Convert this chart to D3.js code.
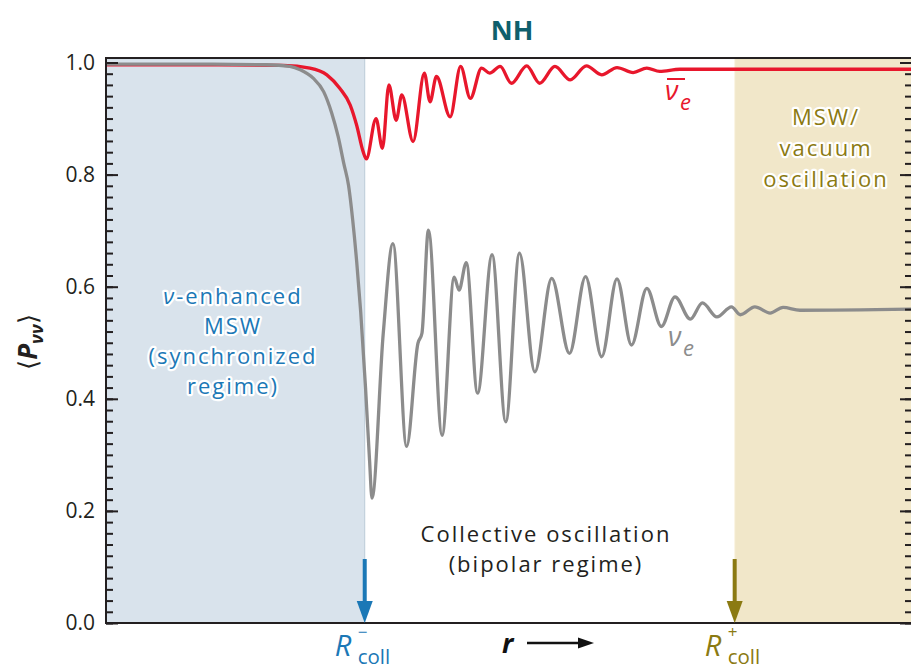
<!DOCTYPE html>
<html>
<head>
<meta charset="utf-8">
<script src="https://cdn.jsdelivr.net/npm/d3@7/dist/d3.min.js"></script>
<style>
  body { margin: 0; background: #fff; }
  text { font-family: "Open Sans", "Noto Sans", sans-serif; }
</style>
</head>
<body>
<svg id="chart" width="911" height="670"></svg>
<script>
// Radial coordinate r (arbitrary units) and survival probability <P_vv>
// electron neutrinos (grey curve)
const nueR = [0, 1.17, 1.99, 2.28, 2.41, 2.57, 2.70, 2.80, 2.88, 2.95, 3.01, 3.06, 3.11, 3.16, 3.22, 3.27, 3.30,
  3.44, 3.56, 3.73, 3.87, 3.92, 4.00, 4.17, 4.32, 4.38, 4.47, 4.61, 4.79, 4.96, 5.13, 5.32,
  5.53, 5.75, 5.95, 6.15, 6.34, 6.52, 6.71, 6.89, 7.06, 7.25, 7.40, 7.58, 7.76, 7.87, 8.05,
  8.24, 8.40, 8.61, 10];
const nueP = [0.997, 0.997, 0.996, 0.993, 0.987, 0.972, 0.948, 0.910, 0.868, 0.820, 0.780, 0.720, 0.645, 0.555, 0.420, 0.290, 0.223,
  0.517, 0.677, 0.315, 0.499, 0.517, 0.701, 0.335, 0.617, 0.594, 0.643, 0.410, 0.657, 0.359, 0.660, 0.448,
  0.615, 0.481, 0.618, 0.475, 0.614, 0.496, 0.597, 0.529, 0.582, 0.542, 0.571, 0.546, 0.564, 0.550, 0.564,
  0.553, 0.563, 0.558, 0.560];

// electron antineutrinos (red curve)
const nuebarR = [0, 1.17, 2.20, 2.53, 2.74, 2.90, 3.03, 3.11, 3.19, 3.23, 3.35, 3.43, 3.51, 3.60, 3.67,
  3.81, 3.95, 4.02, 4.10, 4.27, 4.40, 4.52, 4.66, 4.76, 4.89, 5.03, 5.22, 5.38, 5.57, 5.76,
  5.96, 6.15, 6.34, 6.54, 6.71, 6.87, 7.12, 10];
const nuebarP = [0.996, 0.996, 0.995, 0.990, 0.978, 0.954, 0.924, 0.888, 0.841, 0.828, 0.900, 0.847, 0.960, 0.897, 0.942,
  0.859, 0.981, 0.930, 0.975, 0.903, 0.993, 0.936, 0.990, 0.981, 0.993, 0.963, 0.994, 0.963, 0.993, 0.969,
  0.994, 0.978, 0.991, 0.982, 0.990, 0.984, 0.988, 0.988];

const yTicks = [0, 0.2, 0.4, 0.6, 0.8, 1.0];
const yMinorTicks = d3.range(0, 51).map(i => i / 50);
const rRange = [0, 10];
const rCollMinus = 3.21;
const rCollPlus = 7.80;
const pTop = 1.008;

const svg = d3.select("#chart");
const x = d3.scaleLinear().domain(rRange).range([106, 912]);
const y = d3.scaleLinear().domain([0, 1]).range([623, 62.5]);

const colBlue = "#1b78b6", colOlive = "#8b7a12", colRed = "#e8172c", colGrey = "#8c8c8c", ink = "#231f20";

// regime backgrounds
svg.append("rect").attr("x", x(rRange[0])).attr("y", y(pTop))
  .attr("width", x(rCollMinus) - x(rRange[0])).attr("height", y(0) - y(pTop))
  .attr("fill", "#d9e3ec");
svg.append("rect").attr("x", x(rCollPlus)).attr("y", y(pTop))
  .attr("width", x(rRange[1]) - x(rCollPlus)).attr("height", y(0) - y(pTop))
  .attr("fill", "#f1e7c9");
svg.append("line").attr("x1", x(rCollMinus)).attr("x2", x(rCollMinus))
  .attr("y1", y(pTop)).attr("y2", y(0)).attr("stroke", "#bccbd8").attr("stroke-width", 1);
svg.append("line").attr("x1", x(rCollPlus)).attr("x2", x(rCollPlus))
  .attr("y1", y(pTop)).attr("y2", y(0)).attr("stroke", "#faf4e4").attr("stroke-width", 1);

// regime labels
function block(lines, cx, y0, dy, color, halo) {
  const t = svg.append("text").attr("text-anchor", "middle").attr("fill", color)
    .attr("font-size", 22).attr("letter-spacing", 2);
  if (halo) t.attr("stroke", "#fff").attr("stroke-width", 4.5).attr("stroke-linejoin", "round")
    .attr("paint-order", "stroke");
  lines.forEach((ln, i) => {
    const ts = t.append("tspan").attr("x", cx).attr("y", y0 + i * dy);
    ln.forEach(part => {
      ts.append("tspan").text(part.t).attr("font-style", part.i ? "italic" : null);
    });
  });
  return t;
}
block([[{t: "ν", i: true}, {t: "-enhanced"}], [{t: "MSW"}], [{t: "(synchronized"}], [{t: "regime)"}]],
  233, 304, 30, colBlue, true);
block([[{t: "MSW/"}], [{t: "vacuum"}], [{t: "oscillation"}]], 826, 125, 31, colOlive, true);
block([[{t: "Collective oscillation"}], [{t: "(bipolar regime)"}]], 546, 542, 30, ink, false);

// curves
const line = d3.line().x(d => x(d[0])).y(d => y(d[1])).curve(d3.curveMonotoneX);
svg.append("path").datum(d3.zip(nuebarR, nuebarP)).attr("d", line)
  .attr("fill", "none").attr("stroke", colRed).attr("stroke-width", 3.3).attr("stroke-linejoin", "round");
svg.append("path").datum(d3.zip(nueR, nueP)).attr("d", line)
  .attr("fill", "none").attr("stroke", colGrey).attr("stroke-width", 3.3).attr("stroke-linejoin", "round");

// curve labels
const lbBar = svg.append("text").attr("fill", colRed).attr("font-size", 27).attr("font-style", "italic");
lbBar.append("tspan").attr("x", 665).attr("y", 100).text("ν");
lbBar.append("tspan").attr("x", 680).attr("y", 110).attr("font-size", 22).text("e");
svg.append("line").attr("x1", 667).attr("x2", 685).attr("y1", 79).attr("y2", 79)
  .attr("stroke", colRed).attr("stroke-width", 2);
const lb = svg.append("text").attr("fill", colGrey).attr("font-size", 27).attr("font-style", "italic");
lb.append("tspan").attr("x", 668).attr("y", 346).text("ν");
lb.append("tspan").attr("x", 683).attr("y", 356).attr("font-size", 22).text("e");

// frame
svg.append("rect").attr("x", x(rRange[0])).attr("y", y(pTop))
  .attr("width", x(rRange[1]) - x(rRange[0])).attr("height", y(0) - y(pTop))
  .attr("fill", "none").attr("stroke", ink).attr("stroke-width", 2);

// y axes: inward ticks, labels on the left only
const gL = svg.append("g").attr("transform", `translate(${x(rRange[0])},0)`)
  .call(d3.axisLeft(y).tickValues(yMinorTicks).tickSize(-7).tickFormat(""));
gL.select(".domain").remove();
gL.selectAll("line").attr("stroke", ink).attr("stroke-width", 2);
const gLM = svg.append("g").attr("transform", `translate(${x(rRange[0])},0)`)
  .call(d3.axisLeft(y).tickValues(yTicks).tickSize(-12).tickPadding(11).tickFormat(d3.format(".1f")));
gLM.select(".domain").remove();
gLM.selectAll("line").attr("stroke", ink).attr("stroke-width", 2);
gLM.selectAll("text").attr("font-size", 21).attr("fill", ink)
  .attr("font-family", "'Open Sans', sans-serif");

const gR = svg.append("g").attr("transform", `translate(${x(rRange[1])},0)`)
  .call(d3.axisRight(y).tickValues(yMinorTicks).tickSize(-7).tickFormat(""));
gR.select(".domain").remove();
gR.selectAll("line").attr("stroke", ink).attr("stroke-width", 2);
const gRM = svg.append("g").attr("transform", `translate(${x(rRange[1])},0)`)
  .call(d3.axisRight(y).tickValues(yTicks).tickSize(-12).tickFormat(""));
gRM.select(".domain").remove();
gRM.selectAll("line").attr("stroke", ink).attr("stroke-width", 2);

// y-axis title
const yt = svg.append("text").attr("transform", "translate(37,342) rotate(-90)")
  .attr("text-anchor", "middle").attr("font-size", 26).attr("fill", ink);
yt.append("tspan").text("⟨");
yt.append("tspan").attr("font-weight", "bold").attr("font-style", "italic").text("P");
yt.append("tspan").attr("font-weight", "bold").attr("font-style", "italic")
  .attr("font-size", 18).attr("dy", 6).text("νν");
yt.append("tspan").attr("dy", -6).text("⟩");

// title
svg.append("text").attr("x", 512).attr("y", 40).attr("text-anchor", "middle")
  .attr("font-size", 27).attr("font-weight", "bold").attr("fill", "#0f5f6c").text("NH");

// collective-radius markers
function downArrow(r, color) {
  const cx = x(r);
  svg.append("line").attr("x1", cx).attr("x2", cx).attr("y1", 559).attr("y2", 606)
    .attr("stroke", color).attr("stroke-width", 4);
  svg.append("path").attr("d", `M${cx - 8},601 L${cx + 8},601 L${cx},${y(0)} Z`).attr("fill", color);
}
downArrow(rCollMinus, colBlue);
downArrow(rCollPlus, colOlive);

function rLabel(r, sign, color) {
  const cx = x(r);
  svg.append("text").attr("x", cx - 30).attr("y", 656).attr("fill", color)
    .attr("font-size", 29).attr("font-style", "italic").text("R");
  svg.append("text").attr("x", cx - 7).attr("y", 637.5).attr("fill", color)
    .attr("font-size", 17).text(sign);
  svg.append("text").attr("x", cx - 7).attr("y", 664).attr("fill", color)
    .attr("font-size", 20.5).text("coll");
}
rLabel(rCollMinus, "−", colBlue);
rLabel(rCollPlus, "+", colOlive);

// r axis
svg.append("text").attr("x", 502).attr("y", 653).attr("font-size", 27)
  .attr("font-weight", "bold").attr("font-style", "italic").attr("fill", "#111").text("r");
svg.append("line").attr("x1", 527).attr("x2", 580).attr("y1", 643).attr("y2", 643)
  .attr("stroke", "#111").attr("stroke-width", 2.5);
svg.append("path").attr("d", "M578,637.5 L594,643 L578,648.5 Z").attr("fill", "#111");
</script>
</body>
</html>
